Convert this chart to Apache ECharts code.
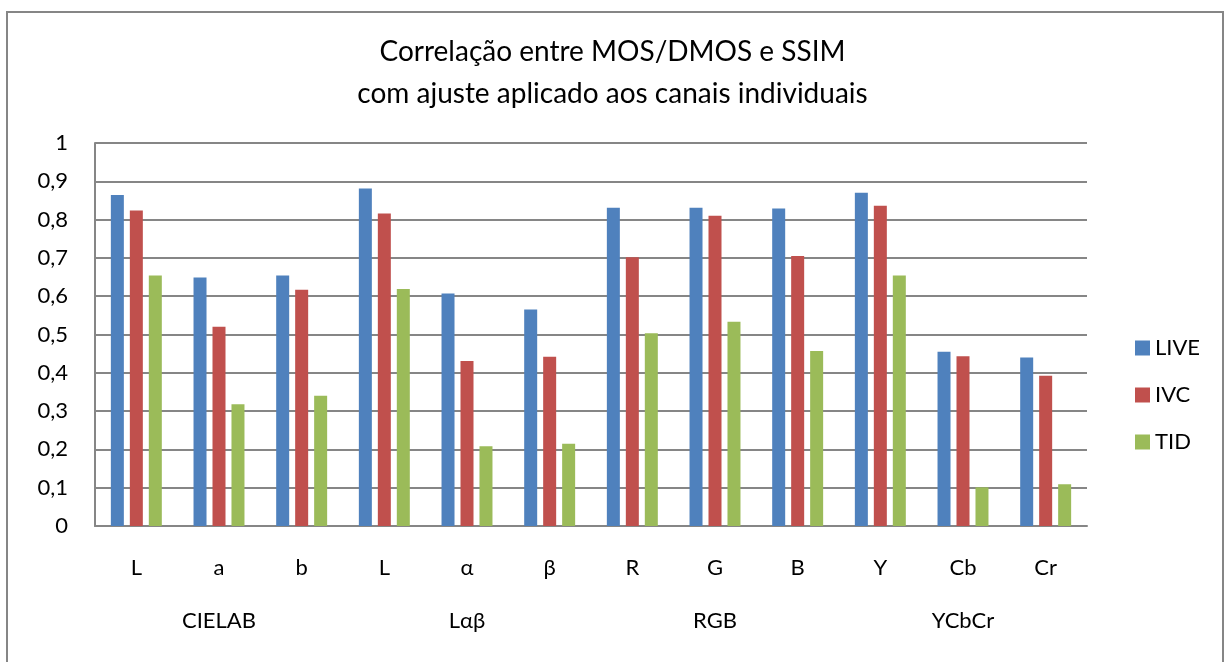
<!DOCTYPE html>
<html>
<head>
<meta charset="utf-8">
<script src="https://cdn.jsdelivr.net/npm/echarts@6/dist/echarts.min.js"></script>
<style>
  html, body { margin: 0; padding: 0; background: #fff; }
  #chart { width: 1225px; height: 662px; }
</style>
</head>
<body>
<div id="chart"></div>
<script>
const channels = ["L", "a", "b", "L", "α", "β", "R", "G", "B", "Y", "Cb", "Cr"];
const colorSpaces = ["CIELAB", "Lαβ", "RGB", "YCbCr"];
const liveValues = [0.864, 0.649, 0.654, 0.881, 0.607, 0.565, 0.831, 0.831, 0.829, 0.870, 0.455, 0.440];
const ivcValues = [0.824, 0.520, 0.617, 0.816, 0.431, 0.442, 0.702, 0.810, 0.705, 0.836, 0.443, 0.392];
const tidValues = [0.654, 0.318, 0.340, 0.619, 0.208, 0.215, 0.503, 0.533, 0.457, 0.654, 0.101, 0.109];

const font = "Lato";
const gray = "#868686";

const chart = echarts.init(document.getElementById("chart"));

const makeBar = (name, data, color) => ({
  name: name,
  type: "bar",
  data: data,
  barWidth: 13,
  barGap: "46%",
  itemStyle: { color: color },
});

chart.setOption({
  animation: false,
  textStyle: { fontFamily: font, color: "#000" },
  title: {
    text: "Correlação entre MOS/DMOS e SSIM\ncom ajuste aplicado aos canais individuais",
    left: "center",
    top: 26,
    textStyle: { fontFamily: font, fontSize: 28, fontWeight: "normal", lineHeight: 42, color: "#000" },
  },
  legend: {
    orient: "vertical",
    left: 1130,
    top: 332,
    itemWidth: 15,
    itemHeight: 15,
    itemGap: 25,
    icon: "rect",
    textStyle: { fontFamily: font, fontSize: 22, color: "#000" },
    data: ["LIVE", "IVC", "TID"],
  },
  grid: { left: 95, right: 138, top: 143, bottom: 136 },
  xAxis: [
    {
      type: "category",
      data: channels,
      axisLine: { lineStyle: { color: gray, width: 2 } },
      axisTick: { show: false },
      axisLabel: { fontFamily: font, fontSize: 22, color: "#000", margin: 31 },
    },
    {
      type: "category",
      data: colorSpaces,
      position: "bottom",
      axisLine: { show: false },
      axisTick: { show: false },
      axisLabel: { fontFamily: font, fontSize: 22, color: "#000", margin: 84 },
    },
  ],
  yAxis: {
    type: "value",
    min: 0,
    max: 1,
    interval: 0.1,
    axisLine: { show: true, lineStyle: { color: gray, width: 2 } },
    axisTick: { show: false },
    axisLabel: {
      fontFamily: font,
      fontSize: 22,
      color: "#000",
      margin: 27,
      formatter: (v) => String(+v.toFixed(1)).replace(".", ","),
    },
    splitLine: { lineStyle: { color: gray, width: 2 } },
  },
  graphic: [
    {
      type: "rect",
      shape: { x: 7, y: 12, width: 1216, height: 700 },
      style: { fill: "none", stroke: gray, lineWidth: 2 },
      silent: true,
    },
  ],
  series: [
    makeBar("LIVE", liveValues, "#4F81BD"),
    makeBar("IVC", ivcValues, "#C0504D"),
    makeBar("TID", tidValues, "#9BBB59"),
  ],
});
</script>
</body>
</html>
